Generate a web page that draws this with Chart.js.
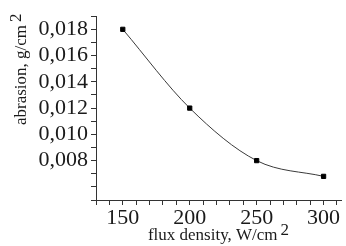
<!DOCTYPE html>
<html>
<head>
<meta charset="utf-8">
<script src="https://cdn.jsdelivr.net/npm/chart.js@4.4.1/dist/chart.umd.min.js"></script>
<style>
  html, body { margin: 0; padding: 0; background: #fff; }
  #wrap { width: 346px; height: 246px; }
</style>
</head>
<body>
<div id="wrap"><canvas id="abrasionChart"></canvas></div>
<script>
// values
const fluxDensity = [150, 200, 250, 300];
const abrasion = [0.018, 0.012, 0.008, 0.0068];
const xTickLabels = [150, 200, 250, 300];
const yTickLabels = ['0,008', '0,010', '0,012', '0,014', '0,016', '0,018'];
const xTitle = 'flux density, W/cm';
const yTitle = 'abrasion, g/cm';
const titleSup = '2';

const serif = '"Liberation Serif", "Times New Roman", serif';
const ink = '#1a1a1a';

// axis titles drawn by hand so the "2" can sit raised like in the source
const axisTitles = {
    id: 'axisTitles',
    afterDraw(chart) {
        const ctx = chart.ctx;
        const area = chart.chartArea;
        ctx.save();
        ctx.fillStyle = ink;
        ctx.font = '17px ' + serif;
        ctx.textBaseline = 'alphabetic';
        ctx.textAlign = 'left';

        // x title, centred under plot
        const wx = ctx.measureText(xTitle).width;
        const ws = ctx.measureText(titleSup).width;
        const gap = 3;
        const x0 = (area.left + area.right) / 2 - (wx + gap + ws) / 2;
        ctx.fillText(xTitle, x0, 240);
        ctx.fillText(titleSup, x0 + wx + gap, 235);

        // y title, rotated
        ctx.translate(26, 125);
        ctx.rotate(-Math.PI / 2);
        const wy = ctx.measureText(yTitle).width;
        ctx.fillText(yTitle, 0, 0);
        ctx.fillText(titleSup, wy + gap, -5);
        ctx.restore();
    }
};

const ctx = document.getElementById('abrasionChart').getContext('2d');
new Chart(ctx, {
    type: 'line',
    data: {
        datasets: [{
            data: fluxDensity.map((f, i) => ({ x: f, y: abrasion[i] })),
            borderColor: '#3a3a3a',
            borderWidth: 1,
            tension: 0.4,
            cubicInterpolationMode: 'monotone',
            pointStyle: 'rect',
            pointRadius: 3,
            pointBackgroundColor: '#000',
            pointBorderColor: '#000',
            pointBorderWidth: 1
        }]
    },
    options: {
        responsive: true,
        maintainAspectRatio: false,
        devicePixelRatio: 1,
        animation: false,
        layout: { padding: { top: 8, right: 1, left: 0, bottom: 0 } },
        plugins: { legend: { display: false }, tooltip: { enabled: false } },
        scales: {
            x: {
                type: 'linear',
                min: 130,
                max: 313,
                afterFit: s => { s.height = 46; },
                border: { display: true, color: '#333', width: 1 },
                grid: { drawOnChartArea: false, drawTicks: true, tickLength: 5, color: '#333' },
                ticks: {
                    stepSize: 10,
                    includeBounds: false,
                    autoSkip: false,
                    maxRotation: 0,
                    padding: 0,
                    color: ink,
                    font: { family: serif, size: 22 },
                    callback: v => xTickLabels.includes(v) ? String(v) : ''
                }
            },
            y: {
                type: 'linear',
                min: 0.005,
                max: 0.019,
                afterFit: s => { s.width = 96; },
                border: { display: true, color: '#333', width: 1 },
                grid: { drawOnChartArea: false, drawTicks: true, tickLength: 5, color: '#333' },
                ticks: {
                    stepSize: 0.001,
                    includeBounds: false,
                    autoSkip: false,
                    padding: 3,
                    color: ink,
                    font: { family: serif, size: 22 },
                    callback: v => {
                        const lbl = (Math.round(v * 1000) / 1000).toFixed(3).replace('.', ',');
                        return yTickLabels.includes(lbl) ? lbl : '';
                    }
                }
            }
        }
    },
    plugins: [axisTitles]
});
</script>
</body>
</html>
